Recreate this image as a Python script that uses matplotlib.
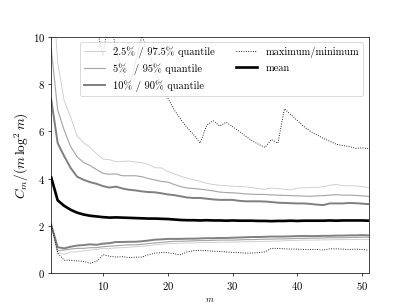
import numpy as np
import matplotlib
matplotlib.use("Agg")
import matplotlib.pyplot as plt

plt.rcParams['font.family'] = 'serif'
plt.rcParams['font.serif'] = ['cmr10']
plt.rcParams['mathtext.fontset'] = 'cm'
plt.rcParams['axes.formatter.use_mathtext'] = True
plt.rcParams['axes.unicode_minus'] = False

# m = 2 .. 51
m = list(range(2, 52))

mean = [4.05, 3.08, 2.85, 2.68, 2.56, 2.48, 2.43, 2.40, 2.37, 2.35,
        2.36, 2.35, 2.34, 2.33, 2.32, 2.31, 2.31, 2.30, 2.29, 2.27,
        2.25, 2.24, 2.24, 2.23, 2.24, 2.23, 2.23, 2.22, 2.23, 2.22,
        2.22, 2.22, 2.21, 2.21, 2.20, 2.21, 2.21, 2.22, 2.21, 2.22,
        2.22, 2.22, 2.22, 2.23, 2.22, 2.23, 2.23, 2.23, 2.23, 2.22]

q90 = [7.35, 5.50, 4.95, 4.45, 4.08, 3.95, 3.85, 3.78, 3.68, 3.62,
       3.66, 3.58, 3.53, 3.50, 3.46, 3.43, 3.42, 3.38, 3.33, 3.30,
       3.25, 3.20, 3.18, 3.18, 3.15, 3.12, 3.10, 3.10, 3.10, 3.06,
       3.04, 3.04, 3.04, 3.03, 3.01, 2.98, 2.97, 2.96, 2.95, 2.95,
       2.93, 2.90, 2.88, 2.95, 2.95, 2.95, 2.97, 2.96, 2.94, 2.92]

q95 = [9.50, 6.90, 6.05, 5.35, 4.92, 4.68, 4.55, 4.38, 4.22, 4.18,
       4.20, 4.12, 4.12, 4.12, 4.08, 4.00, 3.94, 3.88, 3.85, 3.75,
       3.66, 3.60, 3.58, 3.55, 3.52, 3.48, 3.43, 3.41, 3.40, 3.38,
       3.35, 3.34, 3.33, 3.33, 3.31, 3.30, 3.29, 3.28, 3.27, 3.26,
       3.25, 3.27, 3.28, 3.30, 3.32, 3.30, 3.30, 3.29, 3.27, 3.25]

q975 = [13.0, 8.90, 7.30, 6.60, 5.80, 5.52, 5.32, 5.05, 4.83, 4.80,
        4.71, 4.73, 4.74, 4.70, 4.67, 4.60, 4.46, 4.45, 4.30, 4.20,
        4.10, 4.02, 3.95, 3.88, 3.80, 3.75, 3.72, 3.70, 3.68, 3.66,
        3.65, 3.62, 3.58, 3.55, 3.60, 3.58, 3.55, 3.52, 3.60, 3.61,
        3.62, 3.63, 3.65, 3.72, 3.75, 3.70, 3.70, 3.69, 3.66, 3.62]

q10 = [2.05, 1.10, 1.05, 1.12, 1.17, 1.19, 1.22, 1.20, 1.25, 1.27,
       1.32, 1.32, 1.33, 1.33, 1.35, 1.38, 1.42, 1.43, 1.45, 1.45,
       1.45, 1.46, 1.46, 1.47, 1.48, 1.48, 1.49, 1.49, 1.50, 1.51,
       1.52, 1.53, 1.53, 1.54, 1.55, 1.55, 1.55, 1.56, 1.57, 1.57,
       1.57, 1.57, 1.58, 1.58, 1.59, 1.59, 1.60, 1.60, 1.61, 1.60]

q05 = [2.05, 0.95, 0.98, 1.02, 1.05, 1.05, 1.08, 1.08, 1.12, 1.14,
       1.16, 1.18, 1.20, 1.20, 1.22, 1.25, 1.28, 1.30, 1.33, 1.35,
       1.35, 1.36, 1.37, 1.38, 1.38, 1.39, 1.40, 1.40, 1.40, 1.41,
       1.42, 1.42, 1.43, 1.44, 1.44, 1.45, 1.45, 1.46, 1.47, 1.47,
       1.48, 1.48, 1.49, 1.50, 1.50, 1.50, 1.51, 1.51, 1.52, 1.52]

q025 = [2.05, 0.85, 0.80, 0.90, 0.90, 0.95, 0.98, 1.00, 1.05, 1.05,
        1.07, 1.08, 1.10, 1.12, 1.14, 1.16, 1.20, 1.22, 1.25, 1.26,
        1.27, 1.28, 1.28, 1.29, 1.30, 1.30, 1.31, 1.31, 1.32, 1.32,
        1.33, 1.33, 1.34, 1.35, 1.35, 1.36, 1.37, 1.38, 1.39, 1.40,
        1.40, 1.40, 1.41, 1.41, 1.42, 1.42, 1.42, 1.43, 1.43, 1.42]

vmax = [40.0, 32.0, 26.0, 22.0, 18.0, 15.0, 13.0, 10.4, 9.2, 11.0,
        9.4, 8.6, 7.75, 8.9, 10.05, 9.3, 8.6, 7.95, 7.4, 6.9,
        6.5, 6.15, 5.85, 5.5, 6.25, 6.45, 6.22, 6.38, 6.2, 6.0,
        5.8, 5.6, 5.45, 5.32, 5.65, 5.5, 6.95, 6.7, 6.45, 6.2,
        6.0, 5.85, 5.7, 5.58, 5.45, 5.4, 5.35, 5.28, 5.3, 5.27]

vmin = [2.10, 0.85, 0.55, 0.55, 0.52, 0.50, 0.42, 0.50, 0.78, 0.72,
        0.68, 0.70, 0.66, 0.68, 0.68, 0.78, 0.85, 0.87, 0.87, 0.82,
        0.78, 0.90, 0.95, 0.97, 0.95, 0.93, 0.92, 0.90, 0.88, 0.87,
        0.85, 0.85, 0.87, 0.90, 1.05, 1.05, 1.03, 1.02, 1.02, 1.00,
        1.00, 1.00, 0.98, 1.03, 1.03, 1.02, 1.00, 1.02, 1.00, 0.98]

fig, ax = plt.subplots(figsize=(6.4, 4.8))

ax.plot(m, q975, color='#cccccc', lw=1.0, label='2.5% / 97.5% quantile')
ax.plot(m, q025, color='#cccccc', lw=1.0)
ax.plot(m, q95, color='#a6a6a6', lw=1.3, label='5%  / 95% quantile')
ax.plot(m, q05, color='#a6a6a6', lw=1.3)
ax.plot(m, q90, color='#808080', lw=2.2, label='10% / 90% quantile')
ax.plot(m, q10, color='#808080', lw=2.2)
ax.plot(m, vmax, color='black', lw=1.0, ls=':', label='maximum/minimum')
ax.plot(m, vmin, color='black', lw=1.0, ls=':')
ax.plot(m, mean, color='black', lw=3.0, label='mean')

ax.set_xlim(2, 51)
ax.set_ylim(0, 10)
ax.set_xticks([10, 20, 30, 40, 50])
ax.tick_params(labelsize=12)
ax.set_xlabel('$m$', fontsize=10)
ax.set_ylabel(r'$C_m/(m\,\log^2 m)$', fontsize=15, labelpad=2)
ax.legend(loc='upper right', ncol=2, fontsize=11.8)

plt.savefig('out.png', dpi=64)
